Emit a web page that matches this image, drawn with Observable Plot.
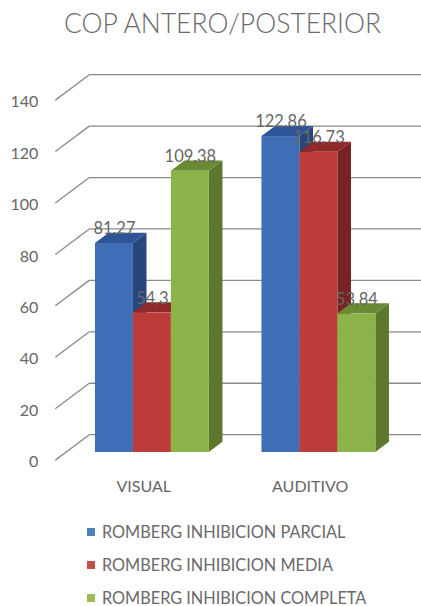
<!DOCTYPE html>
<html>
<head>
<meta charset="utf-8">
<script src="https://cdn.jsdelivr.net/npm/d3@7"></script>
<script src="https://cdn.jsdelivr.net/npm/@observablehq/plot@0.6"></script>
<style>
  html, body { margin: 0; padding: 0; background: #fff; }
  body { width: 421px; height: 606px; overflow: hidden; font-family: Lato, "Open Sans", sans-serif; color: #666; }
  #title { height: 48px; line-height: 46px; text-align: center; padding-left: 24px; font-size: 26.5px; font-weight: 300; color: #6a6a6a; white-space: nowrap; }
  #legend { padding-top: 7px; }
  .row { display: flex; align-items: center; height: 33px; font-size: 16.3px; color: #6a6a6a; }
  .sw { width: 8px; height: 8px; margin-left: 87px; margin-right: 7px; }
</style>
</head>
<body>
<div id="title">COP ANTERO/POSTERIOR</div>
<div id="chart"></div>
<div id="legend"></div>
<script>
// Categories and series of the chart
const categories = ["VISUAL", "AUDITIVO"];
const seriesNames = ["ROMBERG INHIBICION PARCIAL", "ROMBERG INHIBICION MEDIA", "ROMBERG INHIBICION COMPLETA"];
const parcial = [81.27, 122.86];
const media = [54.3, 116.73];
const completa = [109.38, 53.84];
const yTicks = [0, 20, 40, 60, 80, 100, 120, 140];

// Shades for each series: front face, side face, top face, legend swatch
const frontColors = ["#3f6db6", "#bd3b38", "#8cb34a"];
const sideColors = ["#27467c", "#772323", "#5b782c"];
const topColors = ["#2f5598", "#8e2a29", "#6a8a33"];
const swatchColors = ["#4f81bd", "#c0504d", "#9bbb59"];

// Oblique depth of the 3D floor, in data units (x: category units, y: value units).
// t = 0 is the front edge of the floor, t = 1 the back wall; bars occupy t in [0.3, 0.7].
const DX = 0.204, DY = 9.9;
const T_BARS = 0.3, T_BAR_DEPTH = 0.4;
const shiftX = t => (t - T_BARS) * DX;
const shiftY = t => (t - T_BARS) * DY;

// Bar layout inside each category band
const GROUP_PAD = 0.18, BAR_W = 0.228;

const valuesBySeries = [parcial, media, completa];
const bars = [];
valuesBySeries.forEach((vals, s) => {
  vals.forEach((v, i) => {
    const x1 = i + GROUP_PAD + s * BAR_W;
    bars.push({id: `${s}-${i}`, s, i, v, x1, x2: x1 + BAR_W,
      front: frontColors[s], side: sideColors[s], top: topColors[s],
      label: String(v).replace(".", ",")});
  });
});

const bdx = T_BAR_DEPTH * DX, bdy = T_BAR_DEPTH * DY;
const sides = bars.flatMap(b => [
  {id: b.id, fill: b.side, x: b.x2, y1: 0, y2: b.v},
  {id: b.id, fill: b.side, x: b.x2 + bdx, y1: bdy, y2: b.v + bdy}
]);
const tops = bars.flatMap(b => [
  {id: b.id, fill: b.top, y: b.v, x1: b.x1, x2: b.x2},
  {id: b.id, fill: b.top, y: b.v + bdy, x1: b.x1 + bdx, x2: b.x2 + bdx}
]);

const textColor = "#666";
const gridColor = "#8a8a8a";

const chart = Plot.plot({
  width: 421,
  height: 460,
  marginLeft: 65,
  marginRight: 23,
  marginTop: 44,
  marginBottom: 56,
  style: {fontFamily: "Lato, 'Open Sans', sans-serif", background: "#fff", overflow: "visible"},
  x: {domain: [0, 2], axis: null},
  y: {domain: [0, 140], axis: null},
  color: {type: "identity"},
  marks: [
    // back wall gridlines
    Plot.link(yTicks, {
      x1: () => 0 + shiftX(1), x2: () => 2 + shiftX(1),
      y1: d => d + shiftY(1), y2: d => d + shiftY(1),
      stroke: gridColor, strokeWidth: 1.3
    }),
    // gridlines running across the floor depth on the left wall
    Plot.link(yTicks, {
      x1: () => 0 + shiftX(0), x2: () => 0 + shiftX(1),
      y1: d => d + shiftY(0), y2: d => d + shiftY(1),
      stroke: gridColor, strokeWidth: 1.3
    }),
    // tick labels
    Plot.text(yTicks, {
      x: () => 0 + shiftX(0), y: d => d + shiftY(0), text: d => String(d),
      textAnchor: "end", dx: -17, dy: 2, fontSize: 16, fill: textColor
    }),
    // bar side faces, top faces, then front faces
    Plot.areaY(sides, {x: "x", y1: "y1", y2: "y2", z: "id", fill: "fill"}),
    Plot.areaX(tops, {y: "y", x1: "x1", x2: "x2", z: "id", fill: "fill"}),
    Plot.rect(bars, {x1: "x1", x2: "x2", y1: () => 0, y2: "v", fill: "front"}),
    // value labels above each bar
    Plot.text(bars, {
      x: d => (d.x1 + d.x2) / 2, y: d => d.v + bdy, text: "label",
      lineAnchor: "bottom", dy: 1, fontSize: 16.5, fill: textColor
    }),
    // category labels
    Plot.text(categories, {
      x: (d, i) => i + 0.5 + shiftX(0.15), y: () => 0, text: d => d,
      dy: 34, fontSize: 16, fill: textColor
    })
  ]
});
document.getElementById("chart").appendChild(chart);

// legend
const legend = document.getElementById("legend");
seriesNames.forEach((name, s) => {
  const row = document.createElement("div");
  row.className = "row";
  const sw = document.createElement("div");
  sw.className = "sw";
  sw.style.background = swatchColors[s];
  const label = document.createElement("span");
  label.textContent = name;
  row.appendChild(sw);
  row.appendChild(label);
  legend.appendChild(row);
});
</script>
</body>
</html>
